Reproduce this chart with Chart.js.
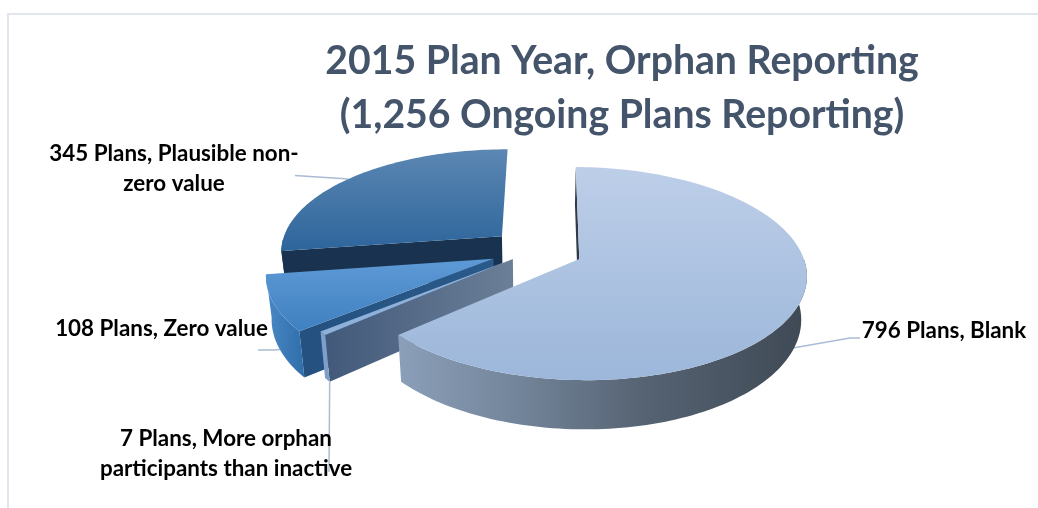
<!DOCTYPE html>
<html>
<head>
<meta charset="utf-8">
<title>2015 Plan Year, Orphan Reporting</title>
<script src="https://cdn.jsdelivr.net/npm/chart.js@4/dist/chart.umd.min.js"></script>
<style>
  html, body { margin: 0; padding: 0; background: #fff; overflow: hidden; }
  #stage { position: relative; width: 1038px; height: 508px; }
  #frame { position: absolute; left: 7px; top: 13px; right: 0; bottom: 0;
           border-left: 2px solid #e1e5ec; border-top: 2px solid #e1e5ec; }
  canvas { position: absolute; left: 0; top: 0; }
</style>
</head>
<body>
<div id="stage">
  <div id="frame"></div>
  <canvas id="chart" width="1038" height="508"></canvas>
</div>
<script>
// Plan counts by orphan-reporting answer, clockwise from the top of the pie.
const categories = ["Blank", "More orphan\nparticipants than inactive", "Zero value", "Plausible non-\nzero value"];
const planCounts = [796, 7, 108, 345];
const titleLines = ["2015 Plan Year, Orphan Reporting", "(1,256 Ongoing Plans Reporting)"];
const baseColors = ["#a9c1e0", "#8fb0d8", "#4f8dca", "#3a6fa5"];
const explodeBy = [47, 30, 46, 46];

// View of the tilted disc: origin on screen, vertical squash, perspective distance,
// wall height, and how far walls converge as they drop.
const VIEW = { x: 536, y: 250, tilt: 0.46, distance: 1650, wall: 42, converge: 0.0005 };

// Shading of each slice's faces.
const SHADING = [
  { top: ["#bdcee8", "#9cb7da"], outer: [[0, "#8c9fb9"], [0.3, "#728499"], [0.6, "#566373"], [1, "#3e4954"]], side: ["#2f3a48", "#2f3a48"] },
  { top: ["#8fb0d8", "#8fb0d8"], outer: [[0, "#7f9fca"], [1, "#7f9fca"]], side: ["#42597a", "#6b7f97"] },
  { top: ["#5e9ad6", "#3f80c0"], outer: [[0, "#4a88c4"], [1, "#2e6eaa"]], side: ["#24517f", "#2a5a8a"] },
  { top: ["#5c87b3", "#2d659b"], outer: [[0, "#18324f"], [1, "#18324f"]], side: ["#18324f", "#18324f"] }
];

// Label placement: centre x, first baseline, and where each leader runs to.
const LABELS = [
  { x: 944, y: 338, leader: { frac: 0.524, drop: 0.74, path: [[850, 338], [860, 338]] } },
  { x: 226, y: 446, leader: { frac: 0, drop: 1, path: [[329, 472]] } },
  { x: 161.5, y: 336, leader: { frac: 0.31, drop: 0.76, path: [[275, 350], [258, 350]] } },
  { x: 174, y: 161, leader: { frac: 0.48, drop: 0, path: [[295, 175.5]] } }
];
const LABEL_FONT = "bold 22.4px Lato";
const LABEL_LEADING = 29.5;

function project(px, py, drop) {
  const d = drop || 0;
  const s = VIEW.distance / (VIEW.distance - py);
  return { x: VIEW.x + px * s * (1 - d * VIEW.converge), y: VIEW.y + py * VIEW.tilt * s + d * s };
}

// Screen point on a slice at a given angle and radius, taking the explode offset into account.
function slicePoint(arc, angle, radius, drop) {
  const mid = (arc.startAngle + arc.endAngle) / 2;
  const offset = arc.options.offset;
  return project(
    Math.cos(mid) * offset + Math.cos(angle) * radius,
    Math.sin(mid) * offset + Math.sin(angle) * radius,
    drop
  );
}

function rimAngles(arc) {
  const steps = Math.max(2, Math.ceil((arc.endAngle - arc.startAngle) * 40));
  const angles = [];
  for (let i = 0; i <= steps; i++) angles.push(arc.startAngle + (arc.endAngle - arc.startAngle) * i / steps);
  return angles;
}

function tracePolygon(ctx, pts) {
  ctx.beginPath();
  pts.forEach((p, i) => (i ? ctx.lineTo(p.x, p.y) : ctx.moveTo(p.x, p.y)));
  ctx.closePath();
}

function bounds(pts) {
  const xs = pts.map(p => p.x), ys = pts.map(p => p.y);
  return { l: Math.min(...xs), r: Math.max(...xs), t: Math.min(...ys), b: Math.max(...ys) };
}

function drawSlice(ctx, arc, shade) {
  const angles = rimAngles(arc);
  const rim = angles.map(a => slicePoint(arc, a, arc.outerRadius, 0));
  const apex = slicePoint(arc, 0, 0, 0);
  const apexLow = slicePoint(arc, 0, 0, VIEW.wall);

  // Radial wall on the leading edge of the slice.
  const wall = [apex, rim[0], slicePoint(arc, angles[0], arc.outerRadius, VIEW.wall), apexLow];
  const wb = bounds(wall);
  const wallFill = ctx.createLinearGradient(wb.l, 0, wb.r, 0);
  wallFill.addColorStop(0, shade.side[0]);
  wallFill.addColorStop(1, shade.side[1]);
  tracePolygon(ctx, wall);
  ctx.fillStyle = wallFill;
  ctx.fill();

  // Curved outer wall, only where it faces the viewer.
  const facing = angles.filter(a => Math.sin(a) >= 0);
  if (facing.length > 1) {
    const upper = facing.map(a => slicePoint(arc, a, arc.outerRadius, 0));
    const lower = facing.map(a => slicePoint(arc, a, arc.outerRadius, VIEW.wall));
    const band = upper.concat(lower.reverse());
    const bb = bounds(band);
    const bandFill = ctx.createLinearGradient(bb.l, 0, bb.r, 0);
    shade.outer.forEach(([stop, color]) => bandFill.addColorStop(stop, color));
    tracePolygon(ctx, band);
    ctx.fillStyle = bandFill;
    ctx.fill();
  }

  // Top face.
  const face = [apex].concat(rim);
  const fb = bounds(face);
  const faceFill = ctx.createLinearGradient(0, fb.t, 0, fb.b);
  faceFill.addColorStop(0, shade.top[0]);
  faceFill.addColorStop(1, shade.top[1]);
  tracePolygon(ctx, face);
  ctx.fillStyle = faceFill;
  ctx.fill();
}

const pie3d = {
  id: "pie3d",
  beforeDatasetsDraw(chart) {
    const ctx = chart.ctx;
    const arcs = chart.getDatasetMeta(0).data;

    // Leader lines go underneath the slices.
    ctx.save();
    ctx.strokeStyle = "#a9bcd4";
    ctx.lineWidth = 1.5;
    LABELS.forEach((label, i) => {
      const arc = arcs[i];
      const a = arc.startAngle + (arc.endAngle - arc.startAngle) * label.leader.frac;
      const from = slicePoint(arc, a, arc.outerRadius, VIEW.wall * label.leader.drop);
      ctx.beginPath();
      ctx.moveTo(from.x, from.y);
      label.leader.path.forEach(([x, y]) => ctx.lineTo(x, y));
      ctx.stroke();
    });

    // Painted back to front: the last category sits furthest away.
    for (let i = arcs.length - 1; i >= 0; i--) drawSlice(ctx, arcs[i], SHADING[i]);

    ctx.fillStyle = "#000";
    ctx.font = LABEL_FONT;
    ctx.textAlign = "center";
    ctx.textBaseline = "alphabetic";
    LABELS.forEach((label, i) => {
      const lines = (planCounts[i] + " Plans, " + categories[i]).split("\n");
      lines.forEach((line, n) => ctx.fillText(line, label.x, label.y + n * LABEL_LEADING));
    });
    ctx.restore();
    return false;
  }
};

new Chart(document.getElementById("chart"), {
  type: "pie",
  data: {
    labels: categories,
    datasets: [{ data: planCounts, backgroundColor: baseColors, offset: explodeBy, borderWidth: 0 }]
  },
  options: {
    responsive: false,
    animation: false,
    events: [],
    rotation: 0.5,
    radius: 222,
    layout: { padding: { left: 206 } },
    plugins: {
      legend: { display: false },
      tooltip: { enabled: false },
      title: {
        display: true,
        text: titleLines,
        fullSize: false,
        color: "#44546a",
        font: { family: "Lato", size: 39.2, weight: "bold", lineHeight: 1.36 },
        padding: { top: 35, bottom: 0 }
      }
    }
  },
  plugins: [pie3d]
});
</script>
</body>
</html>
